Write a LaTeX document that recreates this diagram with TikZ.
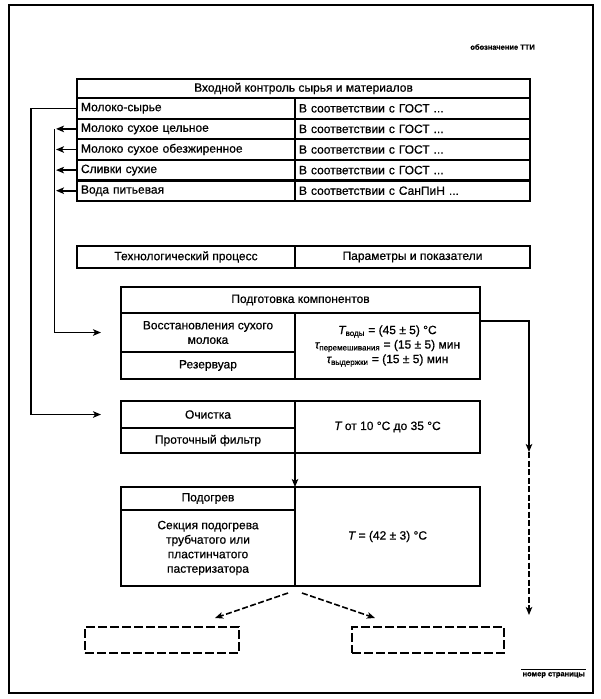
\documentclass[tikz,border=0pt]{standalone}
\usepackage{fontspec}
\setmainfont{Liberation Sans}[FakeBold=0.6,ItalicFeatures={FakeBold=0.6}]
\usetikzlibrary{arrows.meta}
\newcommand\tabf{\fontsize{12}{14.5}\selectfont}
\tikzset{
  cell/.style={draw, line width=2.2pt, inner sep=0pt, outer sep=0pt, anchor=north west, font=\tabf, align=center},
  lcell/.style={cell, align=left, inner xsep=4pt},
  dbox/.style={draw, line width=2pt, dash pattern=on 9pt off 3pt, inner sep=0pt, outer sep=0pt, anchor=north west},
  conn/.style={line width=1.6pt},
  arr/.style={conn, -{Stealth[length=8pt,width=6.5pt,inset=2pt]}},
  darr/.style={arr, dash pattern=on 6pt off 2.5pt},
  small/.style={font=\fontsize{7.5}{8}\selectfont\bfseries, inner sep=1pt}
}
\begin{document}
\begin{tikzpicture}[x=1pt,y=-1pt]
\useasboundingbox (0,0) rectangle (601,699);
\fill[white] (0,0) rectangle (601,699);
% outer frame
\draw[line width=2.8pt] (9,5) rectangle (593,693);
\node[small, anchor=east] (oboz) at (536,47) {обозначение ТТИ};
\node[small, anchor=east] (nomer) at (586,675) {номер страницы};
\draw[line width=1.3pt] ([yshift=1.5pt]nomer.north west) -- ([yshift=1.5pt]nomer.north east);

% table 1
\node[cell, minimum width=453pt, minimum height=19pt] (hdr) at (77,79) {Входной контроль сырья и материалов};
\node[lcell, text width=210pt, minimum height=20.6pt] (r1l) at (77,98) {Молоко-сырье};
\node[lcell, text width=227pt, minimum height=20.6pt] (r1r) at (295,98) {В соответствии с ГОСТ ...};
\node[lcell, text width=210pt, minimum height=20.6pt] (r2l) at (77,118.6) {Молоко сухое цельное};
\node[lcell, text width=227pt, minimum height=20.6pt] (r2r) at (295,118.6) {В соответствии с ГОСТ ...};
\node[lcell, text width=210pt, minimum height=20.6pt] (r3l) at (77,139.2) {Молоко сухое обезжиренное};
\node[lcell, text width=227pt, minimum height=20.6pt] (r3r) at (295,139.2) {В соответствии с ГОСТ ...};
\node[lcell, text width=210pt, minimum height=20.6pt] (r4l) at (77,159.8) {Сливки сухие};
\node[lcell, text width=227pt, minimum height=20.6pt] (r4r) at (295,159.8) {В соответствии с ГОСТ ...};
\node[lcell, text width=210pt, minimum height=20.6pt] (r5l) at (77,180.4) {Вода питьевая};
\node[lcell, text width=227pt, minimum height=20.6pt] (r5r) at (295,180.4) {В соответствии с СанПиН ...};

% table 2
\node[cell, minimum width=218pt, minimum height=22pt] (tp) at (77,246) {Технологический процесс};
\node[cell, minimum width=235pt, minimum height=22pt] (pp) at (295,246) {Параметры и показатели};

% Подготовка компонентов
\node[cell, minimum width=359pt, minimum height=26pt] (podH) at (121,287) {Подготовка компонентов};
\node[cell, minimum width=174pt, minimum height=39pt] (pod1) at (121,313) {Восстановления сухого\\молока};
\node[cell, minimum width=174pt, minimum height=27pt] (pod2) at (121,352) {Резервуар};
\node[cell, minimum width=185pt, minimum height=66pt] (podR) at (295,313)
  {{\itshape T}\textsubscript{воды} = (45 ± 5) °C\\
   {\itshape τ}\textsubscript{перемешивания} = (15 ± 5) мин\\
   {\itshape τ}\textsubscript{выдержки} = (15 ± 5) мин};

% Очистка
\node[cell, minimum width=174pt, minimum height=27pt] (och1) at (121,401) {Очистка};
\node[cell, minimum width=174pt, minimum height=25pt] (och2) at (121,428) {Проточный фильтр};
\node[cell, minimum width=185pt, minimum height=52pt] (ochR) at (295,401) {{\itshape T} от 10 °C до 35 °C};

% Подогрев
\node[cell, minimum width=174pt, minimum height=23pt] (pg1) at (121,487) {Подогрев};
\node[cell, minimum width=174pt, minimum height=76pt] (pg2) at (121,510) {Секция подогрева\\трубчатого или\\пластинчатого\\пастеризатора};
\node[cell, minimum width=185pt, minimum height=99pt] (pgR) at (295,487) {{\itshape T} = (42 ± 3) °C};

% dashed boxes
\node[dbox, minimum width=154pt, minimum height=26pt] (dl) at (85,627) {};
\node[dbox, minimum width=152pt, minimum height=26pt] (dr) at (352,627) {};

% helper coordinates
\coordinate (lA) at (31,0);
\coordinate (lB) at (54.5,0);
\coordinate (rMid) at (529,452);
\coordinate (rEnd) at (529,615);

% connectors on the left
\draw[arr] (r1l.west) -- (r1l.west -| lA) |- ([xshift=-20pt]och1.west);
\draw[arr] (r2l.west) -- ([xshift=1.5pt]r2l.west -| lB);
\draw[arr] (r3l.west) -- ([xshift=1.5pt]r3l.west -| lB);
\draw[arr] (r4l.west) -- ([xshift=1.5pt]r4l.west -| lB);
\draw[arr] (r5l.west) -- ([xshift=1.5pt]r5l.west -| lB);
\draw[arr] (r2l.west -| lB) |- ([xshift=-20pt]pod1.west);

% connectors on the right
\draw[arr] ([yshift=-8pt]podR.north east) -| (rMid);
\draw[darr] (rMid) -- (rEnd);

% down arrow
\draw[arr] (ochR.south west) -- (pgR.north west);

% dashed arrows
\draw[darr] ([xshift=-7pt,yshift=-7pt]pgR.south west) -- ([xshift=-24pt,yshift=9pt]dl.north east);
\draw[darr] ([xshift=7pt,yshift=-7pt]pgR.south west) -- ([xshift=23pt,yshift=9pt]dr.north west);
\end{tikzpicture}
\end{document}
